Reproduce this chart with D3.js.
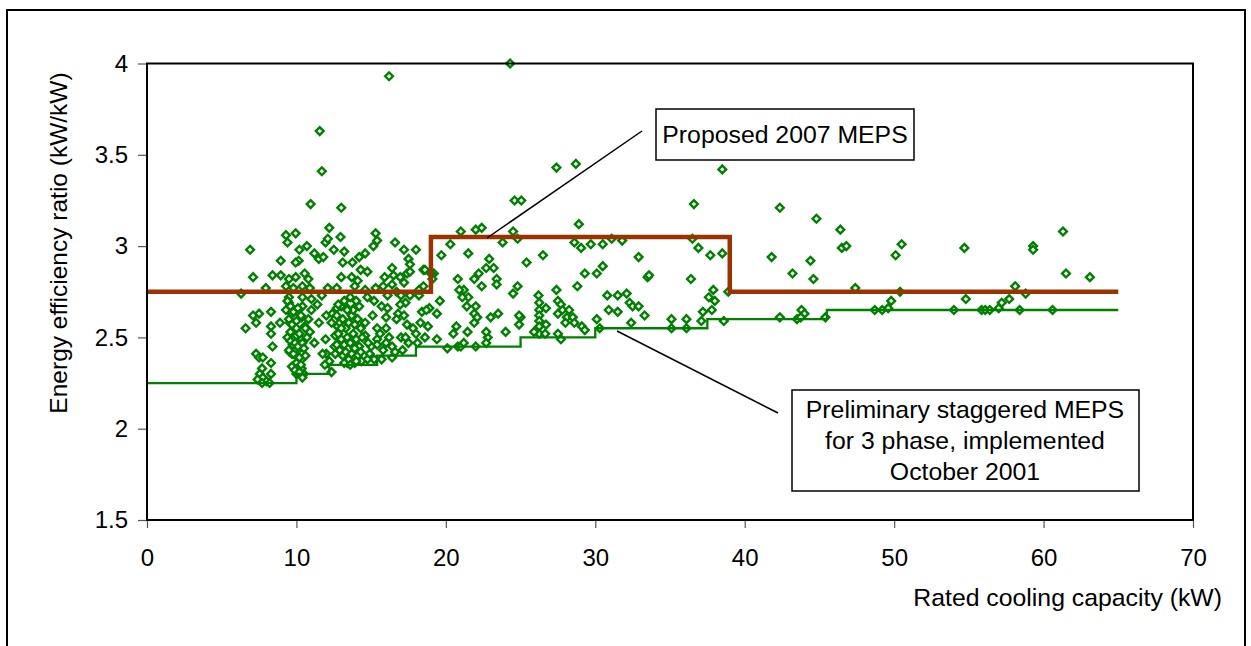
<!DOCTYPE html>
<html>
<head>
<meta charset="utf-8">
<script src="https://cdn.jsdelivr.net/npm/d3@7"></script>
<style>
  body { margin: 0; background: #fff; }
  text { font-family: "Liberation Sans", Arial, sans-serif; fill: #000; }
</style>
</head>
<body>
<div id="chart"></div>
<script>
// tick values
const xTicks = [0, 10, 20, 30, 40, 50, 60, 70];
const yTicks = [1.5, 2, 2.5, 3, 3.5, 4];

// proposed 2007 MEPS (step changes at capacity breaks)
const meps2007 = [[0, 2.75], [19, 3.05], [39, 2.75], [65, 2.75]];

// preliminary staggered MEPS, Oct 2001
const meps2001 = [[0, 2.25], [10, 2.30], [12.2, 2.35], [15.4, 2.40], [18, 2.45],
  [25, 2.50], [30, 2.55], [37.5, 2.60], [45.5, 2.65], [65, 2.65]];

// tested units [capacity kW, EER]
const unitsSmall = [
  [11.56, 3.63], [11.7, 3.41], [10.95, 3.23],
  [6.9, 2.98], [9.3, 3.06], [9.95, 3.07], [9.4, 3.02], [8.95, 2.92], [7.1, 2.83], [8.4, 2.84],
  [8.95, 2.84], [7.95, 2.77], [6.3, 2.74], [9.5, 2.82], [9.95, 2.83], [10.2, 2.98], [10.7, 3.0],
  [10.15, 2.92], [9.95, 2.91], [10.55, 2.85], [10.8, 2.82], [9.3, 2.78], [9.8, 2.77], [10.4, 2.78],
  [10.9, 2.77], [11.2, 2.96], [11.5, 2.93], [11.8, 2.94], [11.95, 3.02], [12.2, 3.10], [12.1, 3.04],
  [12.5, 2.98], [12.1, 2.77], [11.7, 2.73], [11.0, 2.71], [10.4, 2.72], [9.5, 2.72], [11.4, 2.68],
  [11.0, 2.65], [9.5, 2.69], [9.3, 2.65], [8.3, 2.64], [7.5, 2.63], [7.1, 2.62], [7.3, 2.58],
  [6.6, 2.55], [8.9, 2.58], [8.3, 2.56], [8.3, 2.52], [9.7, 2.63], [10.0, 2.59], [9.55, 2.58],
  [10.35, 2.61], [10.55, 2.56], [10.9, 2.53], [11.5, 2.58], [11.95, 2.49], [11.2, 2.47], [12.35, 2.58],
  [9.6, 2.53], [10.0, 2.51], [10.35, 2.49], [9.75, 2.46], [10.2, 2.44], [9.55, 2.42], [10.0, 2.40],
  [10.35, 2.38], [9.9, 2.35], [10.35, 2.33], [10.5, 2.30], [9.7, 2.41], [8.4, 2.45], [8.3, 2.36],
  [8.3, 2.30], [7.3, 2.41], [7.5, 2.39], [7.75, 2.39], [7.7, 2.33], [7.55, 2.30], [7.75, 2.28],
  [7.4, 2.27], [8.0, 2.26], [7.7, 2.25], [8.2, 2.25], [12.1, 2.36], [12.35, 2.31], [12.0, 2.41],
  [12.2, 2.37], [11.75, 2.41], [11.9, 2.35], [12.0, 2.62], [10.4, 2.67],
  [9.4, 2.70], [9.6, 2.67], [9.8, 2.64], [10.1, 2.66], [10.3, 2.62], [9.5, 2.60], [9.7, 2.57],
  [10.0, 2.55], [10.2, 2.52], [9.4, 2.50], [9.6, 2.48], [9.9, 2.47], [10.1, 2.45], [10.4, 2.47],
  [9.5, 2.43], [9.8, 2.41], [10.2, 2.39], [10.0, 2.36], [9.7, 2.34], [10.3, 2.35], [10.6, 2.40],
  [10.5, 2.44], [10.7, 2.50], [10.6, 2.55], [10.8, 2.60], [10.0, 2.30], [9.9, 2.32], [10.4, 2.28],
  [10.2, 2.31]
];

const unitsMid = [
  [13.0, 3.21], [16.2, 3.93],
  [15.3, 3.07], [15.4, 3.03], [15.15, 3.0], [12.95, 3.05], [16.6, 3.02], [17.2, 2.98], [18.0, 2.98],
  [17.5, 2.93], [17.6, 2.90], [13.2, 2.97], [13.75, 2.91], [13.1, 2.91], [14.2, 2.94], [14.6, 2.96],
  [14.75, 2.86], [14.3, 2.87], [13.0, 2.83], [13.7, 2.83], [14.1, 2.81], [16.4, 2.88], [15.9, 2.83],
  [16.5, 2.84], [16.95, 2.83], [17.4, 2.85], [17.6, 2.86], [18.5, 2.87], [16.4, 2.79], [17.2, 2.80],
  [12.7, 2.77], [13.9, 2.78], [14.6, 2.76], [15.3, 2.77], [15.8, 2.78], [18.5, 2.78], [16.7, 2.75],
  [16.1, 2.73], [14.75, 2.72], [15.2, 2.70], [17.0, 2.73], [17.6, 2.73], [18.2, 2.73], [17.3, 2.69],
  [16.95, 2.68], [15.7, 2.67], [16.1, 2.66], [13.0, 2.67], [13.4, 2.66], [14.0, 2.67], [18.9, 2.66],
  [18.4, 2.64], [16.8, 2.63], [17.2, 2.62], [15.1, 2.62], [16.0, 2.61], [16.7, 2.60], [13.9, 2.61],
  [14.6, 2.58], [15.4, 2.55], [16.0, 2.55], [17.0, 2.50], [18.0, 2.52], [17.5, 2.47], [17.1, 2.43],
  [14.6, 2.51], [15.4, 2.49], [16.0, 2.47], [15.4, 2.46], [16.4, 2.45], [14.9, 2.41], [15.7, 2.38],
  [15.2, 2.38], [14.75, 2.38], [14.35, 2.37], [13.9, 2.36], [13.4, 2.36], [16.4, 2.39], [12.6, 2.51],
  [12.4, 2.63], [12.7, 2.66], [12.6, 2.41], [12.55, 2.45], [12.75, 2.56], [18.2, 2.76], [18.7, 2.65],
  [12.7, 2.62], [12.9, 2.58], [13.1, 2.60], [13.3, 2.55], [13.5, 2.58], [13.7, 2.62], [13.9, 2.57],
  [14.1, 2.60], [14.3, 2.55], [12.8, 2.52], [13.0, 2.49], [13.2, 2.46], [13.4, 2.50], [13.6, 2.47],
  [13.8, 2.52], [14.0, 2.49], [14.2, 2.45], [14.4, 2.50], [12.9, 2.43], [13.1, 2.40], [13.3, 2.42],
  [13.5, 2.38], [13.7, 2.41], [13.9, 2.44], [14.1, 2.40], [14.3, 2.42], [13.2, 2.36], [13.6, 2.35],
  [14.0, 2.37], [12.7, 2.46], [13.0, 2.55], [13.8, 2.65], [14.2, 2.67], [13.4, 2.65], [14.0, 2.70],
  [13.6, 2.72], [13.2, 2.70], [12.8, 2.68],
  [15.0, 2.45], [15.8, 2.43], [16.2, 2.50], [16.6, 2.42], [14.8, 2.47], [15.6, 2.52],
  [17.8, 2.55], [18.3, 2.58], [18.8, 2.56], [18.6, 2.50], [17.4, 2.57], [18.1, 2.47]
];

const unitsLarge = [
  [24.3, 4.0], [27.4, 3.43], [28.7, 3.45], [24.6, 3.25], [25.05, 3.25], [38.5, 3.42], [36.6, 3.23],
  [28.9, 3.12], [21.0, 3.08], [22.0, 3.09], [22.4, 3.10], [24.5, 3.08], [24.8, 3.04], [23.8, 3.02],
  [20.3, 3.01], [28.6, 3.02], [29.05, 2.99], [29.7, 3.01], [30.5, 3.01], [31.1, 3.04], [31.8, 3.03],
  [36.5, 3.04], [36.9, 2.99], [37.7, 2.95], [38.5, 2.96], [21.5, 2.96], [19.7, 2.95], [26.5, 2.95],
  [32.9, 2.94], [22.9, 2.93], [25.4, 2.91], [22.7, 2.88], [23.2, 2.88], [30.5, 2.89], [18.6, 2.87],
  [19.2, 2.85], [22.2, 2.85], [29.3, 2.85], [30.1, 2.85], [33.5, 2.83], [33.6, 2.84], [36.4, 2.82],
  [23.4, 2.82], [20.8, 2.82], [21.9, 2.82], [22.4, 2.78], [23.4, 2.79], [24.8, 2.78], [24.5, 2.74],
  [27.4, 2.76], [28.8, 2.78], [37.9, 2.76], [37.6, 2.72], [38.0, 2.70], [38.9, 2.75], [30.8, 2.73],
  [31.5, 2.73], [32.1, 2.74], [32.3, 2.69], [32.5, 2.67], [32.9, 2.67], [33.3, 2.62], [30.9, 2.65],
  [31.5, 2.64], [19.6, 2.70], [19.4, 2.63], [21.2, 2.76], [21.5, 2.72], [21.4, 2.67], [22.0, 2.67],
  [21.9, 2.63], [22.1, 2.61], [21.9, 2.58], [21.45, 2.53], [20.7, 2.56], [20.5, 2.52], [23.0, 2.61],
  [23.5, 2.63], [24.0, 2.53], [24.9, 2.57], [25.0, 2.61], [26.2, 2.73], [26.25, 2.69], [26.25, 2.65],
  [26.25, 2.62], [26.25, 2.59], [26.25, 2.56], [26.25, 2.52], [26.7, 2.66], [26.7, 2.57], [26.65, 2.52],
  [25.9, 2.53], [27.5, 2.70], [27.7, 2.68], [27.5, 2.63], [27.8, 2.65], [28.25, 2.65], [28.1, 2.61],
  [28.0, 2.58], [27.5, 2.52], [27.7, 2.49], [28.5, 2.61], [28.6, 2.58], [29.1, 2.56], [29.3, 2.54],
  [30.1, 2.60], [30.3, 2.55], [32.4, 2.58], [35.1, 2.60], [35.1, 2.55], [36.1, 2.60], [36.1, 2.55],
  [37.1, 2.59], [37.2, 2.64], [37.8, 2.65], [38.6, 2.59], [19.4, 2.49], [20.1, 2.44], [20.8, 2.45],
  [21.0, 2.45], [21.2, 2.47], [22.0, 2.45], [22.8, 2.50], [22.7, 2.47], [20.9, 2.76], [21.1, 2.72],
  [19.0, 2.85], [19.1, 2.82], [22.7, 2.53], [24.9, 2.62], [17.3, 2.50]
];

const unitsXL = [
  [42.35, 3.21], [44.8, 3.15], [46.4, 3.09], [46.5, 2.99], [46.8, 3.0], [41.8, 2.94], [44.4, 2.92],
  [43.2, 2.85], [44.6, 2.82], [50.1, 2.95], [50.5, 3.01], [54.7, 2.99], [59.3, 3.0], [59.3, 2.98],
  [61.3, 3.08], [61.5, 2.85], [63.1, 2.83], [47.4, 2.77], [50.4, 2.75], [54.8, 2.71], [58.1, 2.78],
  [58.8, 2.74], [57.7, 2.71], [57.2, 2.69], [57.0, 2.66], [49.8, 2.70], [49.6, 2.66], [49.2, 2.65],
  [48.7, 2.65], [54.0, 2.65], [55.85, 2.65], [56.1, 2.65], [56.4, 2.65], [58.4, 2.65], [60.6, 2.65],
  [42.35, 2.61], [43.5, 2.60], [43.8, 2.65], [44.0, 2.63], [43.75, 2.61], [45.4, 2.61]
];

const units = unitsSmall.concat(unitsMid, unitsLarge, unitsXL);

const W = 1251, H = 646;
const svg = d3.select("#chart").append("svg")
  .attr("width", W)
  .attr("height", H);

// outer frame
svg.append("rect")
  .attr("x", 7).attr("y", 10)
  .attr("width", 1238).attr("height", 700)
  .attr("fill", "none").attr("stroke", "#000").attr("stroke-width", 2);

const x = d3.scaleLinear().domain([0, 70]).range([147, 1193]);
const y = d3.scaleLinear().domain([1.5, 4]).range([520, 63.5]);

// axes
const yAxis = svg.append("g")
  .attr("transform", `translate(${x(0)},0)`)
  .call(d3.axisLeft(y).tickValues(yTicks).tickSize(9).tickPadding(10).tickFormat(d => d));
const xAxis = svg.append("g")
  .attr("transform", `translate(0,${y(1.5)})`)
  .call(d3.axisBottom(x).tickValues(xTicks).tickSize(8).tickPadding(21).tickFormat(d => d));

[xAxis, yAxis].forEach(g => {
  g.select(".domain").remove();
  g.selectAll(".tick line").attr("stroke", "#555").attr("stroke-width", 1.2);
  g.selectAll("text").style("font-size", "24px").attr("fill", "#000");
});

// units
const diamond = d3.symbol().type(d3.symbolSquare).size(30);
svg.append("g")
  .selectAll("path")
  .data(units)
  .join("path")
  .attr("d", diamond)
  .attr("transform", d => `translate(${x(d[0])},${y(d[1])}) rotate(45)`)
  .attr("fill", "#fff")
  .attr("stroke", "#008000")
  .attr("stroke-width", 2.4);

// MEPS step lines
const step = d3.line()
  .x(d => x(d[0]))
  .y(d => y(d[1]))
  .curve(d3.curveStepAfter);

svg.append("path")
  .datum(meps2001)
  .attr("d", step)
  .attr("fill", "none")
  .attr("stroke", "#008000")
  .attr("stroke-width", 2.3);

svg.append("path")
  .datum(meps2007)
  .attr("d", step)
  .attr("fill", "none")
  .attr("stroke", "#993300")
  .attr("stroke-width", 4.5);

// plot box
svg.append("rect")
  .attr("x", x(0)).attr("y", y(4))
  .attr("width", x(70) - x(0)).attr("height", y(1.5) - y(4))
  .attr("fill", "none").attr("stroke", "#000").attr("stroke-width", 2);

// axis titles
svg.append("text")
  .attr("x", 1222).attr("y", 606)
  .attr("text-anchor", "end")
  .style("font-size", "24.8px")
  .text("Rated cooling capacity (kW)");

svg.append("text")
  .attr("transform", "translate(67,243) rotate(-90)")
  .attr("text-anchor", "middle")
  .style("font-size", "24.5px")
  .text("Energy efficiency ratio (kW/kW)");

// annotations
svg.append("line")
  .attr("x1", 642).attr("y1", 131).attr("x2", 487).attr("y2", 238)
  .attr("stroke", "#000").attr("stroke-width", 1.5);
svg.append("rect")
  .attr("x", 656).attr("y", 109).attr("width", 258).attr("height", 51)
  .attr("fill", "#fff").attr("stroke", "#000").attr("stroke-width", 1.5);
svg.append("text")
  .attr("x", 785).attr("y", 143)
  .attr("text-anchor", "middle")
  .style("font-size", "24.8px")
  .text("Proposed 2007 MEPS");

svg.append("line")
  .attr("x1", 617).attr("y1", 331).attr("x2", 778).attr("y2", 413)
  .attr("stroke", "#000").attr("stroke-width", 1.5);
svg.append("rect")
  .attr("x", 792).attr("y", 390).attr("width", 347).attr("height", 101)
  .attr("fill", "#fff").attr("stroke", "#000").attr("stroke-width", 1.5);
const note = ["Preliminary staggered MEPS", "for 3 phase, implemented", "October 2001"];
svg.append("g")
  .selectAll("text")
  .data(note)
  .join("text")
  .attr("x", 965)
  .attr("y", (d, i) => 418 + i * 31)
  .attr("text-anchor", "middle")
  .style("font-size", "24.8px")
  .text(d => d);
</script>
</body>
</html>
